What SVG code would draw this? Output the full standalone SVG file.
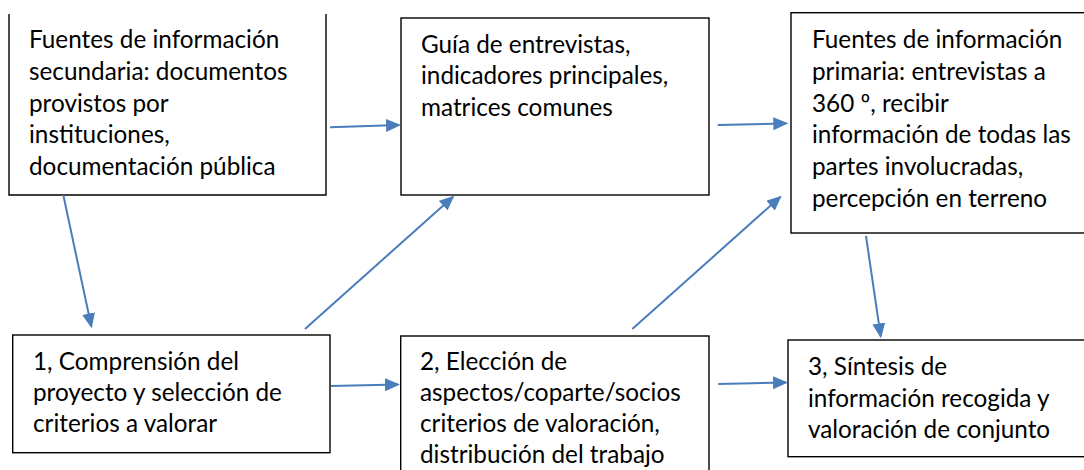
<svg xmlns="http://www.w3.org/2000/svg" width="1084" height="470" viewBox="0 0 1084 470">
<style>
.box{fill:#fff;stroke:#000;stroke-width:1.4}
.t{font-family:Lato,"Open Sans","Liberation Sans",sans-serif;font-size:24.3px;fill:#000}
.c{stroke:#4a7ebb;stroke-width:2;fill:none;marker-end:url(#ah)}
</style>
<defs>
<marker id="ah" markerUnits="userSpaceOnUse" markerWidth="16" markerHeight="14" refX="13" refY="6.5" orient="auto">
<path d="M0,0 L15,6.5 L0,13 z" fill="#4a7ebb"/>
</marker>
</defs>
<rect width="1084" height="470" fill="#fff"/>
<g id="n1">
<path class="box" d="M9,14 V195 H326 V14"/>
<text class="t"><tspan x="29" y="48.3">Fuentes de información</tspan><tspan x="29" y="80">secundaria: documentos</tspan><tspan x="29" y="111.7">provistos por</tspan><tspan x="29" y="143.3">instituciones,</tspan><tspan x="29" y="175">documentación pública</tspan></text>
</g>
<g id="n2">
<rect class="box" x="401" y="18" width="308" height="177"/>
<text class="t"><tspan x="421" y="52.7">Guía de entrevistas,</tspan><tspan x="421" y="84.3">indicadores principales,</tspan><tspan x="421" y="116">matrices comunes</tspan></text>
</g>
<g id="n3">
<rect class="box" x="791" y="12.7" width="300" height="220.3"/>
<text class="t"><tspan x="812" y="48.3">Fuentes de información</tspan><tspan x="812" y="80">primaria: entrevistas a</tspan><tspan x="812" y="111.7">360 º, recibir</tspan><tspan x="812" y="143.3">información de todas las</tspan><tspan x="812" y="175">partes involucradas,</tspan><tspan x="812" y="206.7">percepción en terreno</tspan></text>
</g>
<g id="n4">
<rect class="box" x="12.7" y="335" width="317.3" height="117.7"/>
<text class="t"><tspan x="33" y="370">1, Comprensión del</tspan><tspan x="33" y="401">proyecto y selección de</tspan><tspan x="33" y="432">criterios a valorar</tspan></text>
</g>
<g id="n5">
<rect class="box" x="400.7" y="336" width="308.3" height="150"/>
<text class="t"><tspan x="420" y="370">2, Elección de</tspan><tspan x="420" y="401">aspectos/coparte/socios</tspan><tspan x="420" y="432">criterios de valoración,</tspan><tspan x="420" y="463">distribución del trabajo</tspan></text>
</g>
<g id="n6">
<rect class="box" x="788" y="340" width="300" height="116.7"/>
<text class="t"><tspan x="808" y="375">3, Síntesis de</tspan><tspan x="808" y="406.7">información recogida y</tspan><tspan x="808" y="438">valoración de conjunto</tspan></text>
</g>
<g id="connectors">
<line class="c" x1="63.3" y1="195" x2="91.3" y2="326.3"/>
<line class="c" x1="330" y1="127.3" x2="399" y2="125.1"/>
<line class="c" x1="305" y1="329" x2="452.8" y2="197"/>
<line class="c" x1="717.7" y1="125" x2="786.3" y2="123.4"/>
<line class="c" x1="632.3" y1="329" x2="780.2" y2="197"/>
<line class="c" x1="866" y1="236" x2="880.7" y2="336.3"/>
<line class="c" x1="331" y1="386" x2="398" y2="384.5"/>
<line class="c" x1="718.3" y1="384" x2="786" y2="382.5"/>
</g>
</svg>
